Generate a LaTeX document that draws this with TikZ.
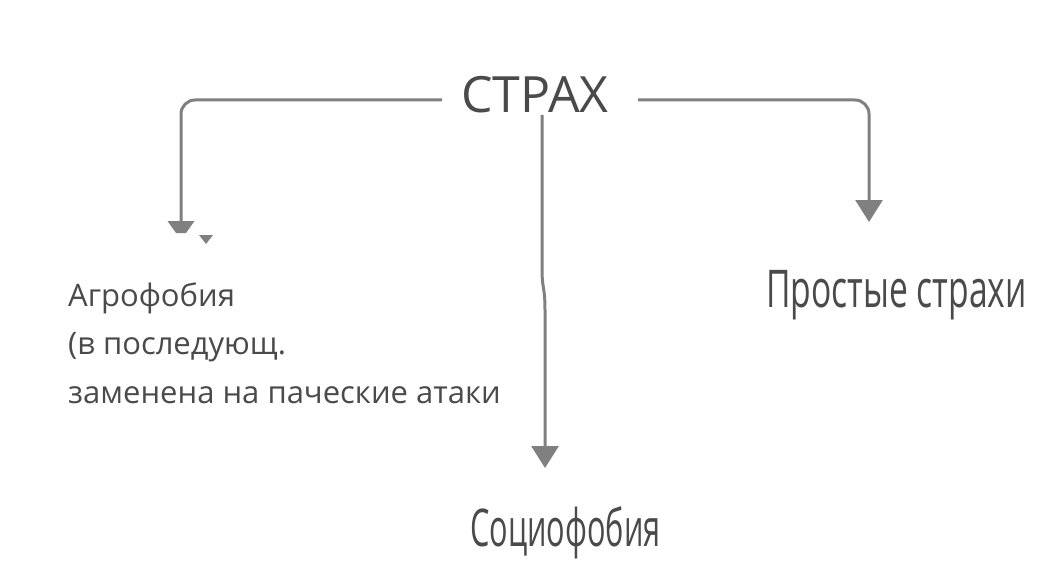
\documentclass[tikz,border=0pt]{standalone}
\usepackage{fontspec}
\setmainfont{Open Sans}
\usetikzlibrary{arrows.meta}
\definecolor{linegray}{HTML}{808080}
\definecolor{textgray}{HTML}{4A4A4A}
\begin{document}
\begin{tikzpicture}[x=1pt,y=-1pt,
  conn/.style={draw=linegray,line width=3pt,rounded corners=14pt},
  tipped/.style={conn,-{Triangle[width=27pt,length=22pt]}},
  lbl/.style={inner sep=0pt,text=textgray,anchor=base west}]
\useasboundingbox (0,0) rectangle (1040,580);
\node[lbl] (root) at (461,113) {\fontsize{50}{60}\selectfont СТРАХ};
\node[lbl,align=left,anchor=base west,font=\fontsize{31}{48.5}\selectfont] (agro) at (68,403) {Агрофобия\\(в последующ.\\заменена на паческие атаки};
\node[lbl] (prost) at (766,307) {\scalebox{0.647}[1]{\fontsize{52}{60}\selectfont Простые страхи}};
\node[lbl] (socio) at (470,546) {\scalebox{0.59}[1]{\fontsize{52}{60}\selectfont Социофобия}};
\coordinate (lstart) at (442,100);
\coordinate (lend) at (181,222);
\coordinate (rstart) at (638,100);
\coordinate (rend) at (869,222);
\coordinate (mstart) at (542,115);
\coordinate (mend) at (545,468);
% left connector
\draw[conn] (lstart) -| (lend);
\fill[linegray] (167.5,221) -- (194.5,221) -- (186,233) -- (176,233) -- cycle;
\fill[linegray] (199,235) -- (213,235) -- (206,244) -- cycle;
% right connector
\draw[tipped] (rstart) -| (rend);
% middle connector
\draw[conn,-{Triangle[width=27pt,length=22pt]}] (mstart) -- (542,255) .. controls (542,290) and (545,285) .. (545,325) -- (mend);
\end{tikzpicture}
\end{document}
